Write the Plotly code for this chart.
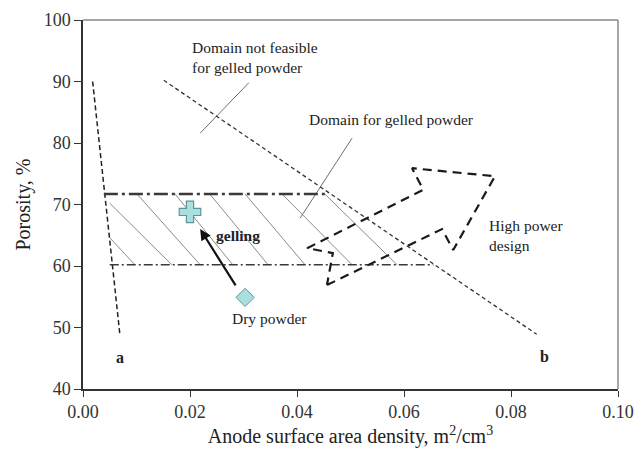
import plotly.graph_objects as go

# ---- data ----
line_a_x = [0.0018, 0.0069]
line_a_y = [90.0, 48.8]
line_b_x = [0.0151, 0.0848]
line_b_y = [90.2, 48.9]

upper_bound_x = [0.0039, 0.0452]
upper_bound_y = [71.7, 71.7]
lower_bound_x = [0.0050, 0.0655]
lower_bound_y = [60.2, 60.2]

# hatch segments (start -> end)
hatch_x0 = [0.0050, 0.0050, 0.0101, 0.0172, 0.0237, 0.0303, 0.0372, 0.0452]
hatch_y0 = [64.6, 70.2, 71.7, 71.7, 71.7, 71.7, 71.7, 71.7]
hatch_x1 = [0.0097, 0.0166, 0.0219, 0.0280, 0.0346, 0.0415, 0.0503, 0.0587]
hatch_y1 = [60.2, 60.2, 60.2, 60.2, 60.2, 60.2, 60.2, 60.2]

# high power design arrow outline
hp_arrow_x = [0.0456, 0.0671, 0.0692, 0.0770, 0.0615, 0.0636, 0.0419, 0.0467, 0.0456]
hp_arrow_y = [56.9, 66.0, 62.6, 74.6, 75.9, 72.4, 62.9, 62.1, 56.9]

gelled_x = [0.0200]
gelled_y = [68.8]
dry_x = [0.0303]
dry_y = [54.9]

gelling_tail = (0.0287, 56.6)
gelling_head = (0.0219, 66.0)

leader_nf_x = [0.0310, 0.0219]
leader_nf_y = [89.8, 81.6]
leader_dom_x = [0.0503, 0.0406]
leader_dom_y = [80.8, 67.8]

x_ticks = [0.0, 0.02, 0.04, 0.06, 0.08, 0.10]
x_tick_labels = ["0.00", "0.02", "0.04", "0.06", "0.08", "0.10"]
y_ticks = [40, 50, 60, 70, 80, 90, 100]

FONT = "Liberation Serif, Times New Roman, serif"

fig = go.Figure()

# hatch
hx, hy = [], []
for a, b, c, d in zip(hatch_x0, hatch_y0, hatch_x1, hatch_y1):
    hx += [a, c, None]
    hy += [b, d, None]
fig.add_trace(go.Scatter(x=hx, y=hy, mode="lines",
                         line=dict(color="#8a8a8a", width=1), hoverinfo="skip"))

# leader lines
for lx, ly in [(leader_nf_x, leader_nf_y), (leader_dom_x, leader_dom_y)]:
    fig.add_trace(go.Scatter(x=lx, y=ly, mode="lines",
                             line=dict(color="#6e6e6e", width=1), hoverinfo="skip"))

# boundary lines a and b
fig.add_trace(go.Scatter(x=line_a_x, y=line_a_y, mode="lines",
                         line=dict(color="#222222", width=1.5, dash="5px,3px")))
fig.add_trace(go.Scatter(x=line_b_x, y=line_b_y, mode="lines",
                         line=dict(color="#333333", width=1.3, dash="4px,3px")))

# porosity bounds
fig.add_trace(go.Scatter(x=upper_bound_x, y=upper_bound_y, mode="lines",
                         line=dict(color="#3a3a3a", width=2.5, dash="14px,4px,3px,4px")))
fig.add_trace(go.Scatter(x=lower_bound_x, y=lower_bound_y, mode="lines",
                         line=dict(color="#3a3a3a", width=1.5, dash="9px,3px,2px,3px")))

# high power design arrow
fig.add_trace(go.Scatter(x=hp_arrow_x, y=hp_arrow_y, mode="lines",
                         line=dict(color="#1a1a1a", width=2.2, dash="9px,6px")))

# markers
fig.add_trace(go.Scatter(x=dry_x, y=dry_y, mode="markers",
                         marker=dict(symbol="diamond", size=14, color="#aadfe0",
                                     line=dict(color="#5f9499", width=1))))
fig.add_trace(go.Scatter(x=gelled_x, y=gelled_y, mode="markers",
                         marker=dict(symbol="cross", size=18, color="#aadfe0",
                                     line=dict(color="#5f9499", width=1.2))))

# gelling arrow
fig.add_annotation(x=gelling_head[0], y=gelling_head[1], ax=gelling_tail[0], ay=gelling_tail[1],
                   xref="x", yref="y", axref="x", ayref="y", text="", showarrow=True,
                   arrowhead=2, arrowsize=1, arrowwidth=2.2, arrowcolor="#111111")

txt = dict(family=FONT, size=15.5, color="#222222")
fig.add_annotation(x=0.0200, y=93.9, text="Domain not feasible<br>for gelled powder",
                   showarrow=False, xanchor="left", yanchor="middle", align="left", font=txt)
fig.add_annotation(x=0.0419, y=83.9, text="Domain for gelled powder",
                   showarrow=False, xanchor="left", yanchor="middle", align="left", font=txt)
fig.add_annotation(x=0.0755, y=65.0, text="High power<br>design",
                   showarrow=False, xanchor="left", yanchor="middle", align="left", font=txt)
fig.add_annotation(x=0.0290, y=64.9, text="<b>gelling</b>",
                   showarrow=False, xanchor="center", yanchor="middle", font=txt)
fig.add_annotation(x=0.0348, y=51.4, text="Dry powder",
                   showarrow=False, xanchor="center", yanchor="middle", font=txt)
fig.add_annotation(x=0.0069, y=45.1, text="<b>a</b>",
                   showarrow=False, xanchor="center", yanchor="middle",
                   font=dict(family=FONT, size=16, color="#222222"))
fig.add_annotation(x=0.0862, y=45.3, text="<b>b</b>",
                   showarrow=False, xanchor="center", yanchor="middle",
                   font=dict(family=FONT, size=16, color="#222222"))

# top / right frame
fig.add_shape(type="line", xref="paper", yref="paper", x0=0, x1=1, y0=1, y1=1,
              line=dict(color="#8a8a8a", width=1.5))
fig.add_shape(type="line", xref="paper", yref="paper", x0=1, x1=1, y0=0, y1=1,
              line=dict(color="#8a8a8a", width=1.5))

fig.update_layout(
    width=637, height=455,
    margin=dict(l=83, r=19, t=20, b=66, autoexpand=False),
    paper_bgcolor="white", plot_bgcolor="white",
    showlegend=False,
    font=dict(family=FONT, color="#222222"),
    xaxis=dict(range=[0, 0.10], tickvals=x_ticks, ticktext=x_tick_labels,
               automargin=False,
               showgrid=False, zeroline=False, showline=True, linecolor="#333333",
               linewidth=1.5, ticks="outside", ticklen=6, tickcolor="#333333",
               tickfont=dict(family=FONT, size=18, color="#333333"),
               title=dict(text="Anode surface area density, m<sup>2</sup>/cm<sup>3</sup>",
                          font=dict(family=FONT, size=20, color="#222222"), standoff=8)),
    yaxis=dict(range=[40, 100], tickvals=y_ticks,
               automargin=False,
               showgrid=False, zeroline=False, showline=True, linecolor="#333333",
               linewidth=1.5, ticks="outside", ticklen=7, tickcolor="#333333",
               tickfont=dict(family=FONT, size=18, color="#333333"),
               title=dict(text="Porosity, %",
                          font=dict(family=FONT, size=20, color="#222222"), standoff=8)),
)

fig.write_html("out.html")
